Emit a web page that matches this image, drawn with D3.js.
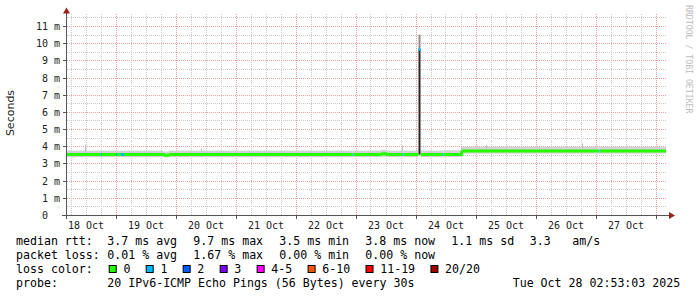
<!DOCTYPE html>
<html>
<head>
<meta charset="utf-8">
<script src="https://cdn.jsdelivr.net/npm/d3@7"></script>
<style>
  body { margin: 0; background: #fff; }
  svg { display: block; }
  text { font-family: "DejaVu Sans Mono", monospace; white-space: pre; }
</style>
</head>
<body>
<svg id="chart" width="697" height="297"></svg>
<script>
// median rtt samples (ms), loss count per sample and ping spread (smoke)
const sampleTimes = [
  "2025-10-18T04:00", "2025-10-18T18:00", "2025-10-18T18:24", "2025-10-19T00:00",
  "2025-10-19T00:24", "2025-10-19T02:00", "2025-10-19T03:12", "2025-10-19T19:00",
  "2025-10-19T21:00", "2025-10-21T00:00", "2025-10-22T22:40", "2025-10-22T23:04",
  "2025-10-23T10:00", "2025-10-23T12:00", "2025-10-23T18:30", "2025-10-23T18:54",
  "2025-10-24T01:00", "2025-10-24T01:48", "2025-10-24T10:30", "2025-10-24T10:54",
  "2025-10-24T18:15", "2025-10-25T12:00", "2025-10-27T01:00", "2025-10-27T01:24"
];
const medianMs = [
  3.55, 3.55, 3.55, 3.55, 3.55, 3.55, 3.55, 3.50,
  3.55, 3.55, 3.55, 3.55, 3.60, 3.55, 3.55, 3.55,
  9.66, 3.55, 3.55, 3.55, 3.76, 3.76, 3.76, 3.76
];
const lossCount = [
  0, 1, 0, 1, 0, 1, 0, 0,
  0, 0, 1, 0, 0, 0, 1, 0,
  1, 0, 1, 0, 0, 0, 1, 0
];
const smokeLow = [
  3.40, 3.40, 3.40, 3.40, 3.40, 3.40, 3.40, 3.38,
  3.40, 3.40, 3.40, 3.40, 3.42, 3.40, 3.40, 3.40,
  9.60, 3.40, 3.40, 3.40, 3.60, 3.60, 3.60, 3.60
];
const smokeHigh = [
  3.78, 3.78, 3.78, 3.78, 3.78, 3.78, 3.78, 3.72,
  3.78, 3.78, 3.78, 3.78, 3.82, 3.78, 3.78, 3.78,
  10.52, 3.78, 3.78, 3.80, 4.00, 4.00, 4.00, 4.00
];
// dense smoke of the spike sample
const spikeTime = "2025-10-24T01:00";
const spikeDense = [3.55, 9.66];
// single pings far above the median
const pingSpikeTimes = ["2025-10-18T11:36", "2025-10-20T10:00", "2025-10-23T18:30", "2025-10-24T18:15", "2025-10-25T04:00", "2025-10-26T18:30"];
const pingSpikeMax = [4.12, 3.90, 4.08, 4.00, 4.12, 4.20];

const yTicks = [0, 1, 2, 3, 4, 5, 6, 7, 8, 9, 10, 11];
const yTickLabels = ["0  ", "1 m", "2 m", "3 m", "4 m", "5 m", "6 m", "7 m", "8 m", "9 m", "10 m", "11 m"];
const dayLabels = ["18 Oct", "19 Oct", "20 Oct", "21 Oct", "22 Oct", "23 Oct", "24 Oct", "25 Oct", "26 Oct", "27 Oct"];

const lossClasses = ["0", "1", "2", "3", "4-5", "6-10", "11-19", "20/20"];
const lossColors = ["#26ff00", "#00b8ff", "#0059ff", "#7e00ff", "#ff00ff", "#ff5500", "#ff0000", "#a10000"];

const legendRows = [
  ["median rtt:", "3.7 ms avg", "9.7 ms max", "3.5 ms min", "3.8 ms now", "1.1 ms sd", "3.3", "am/s"],
  ["packet loss:", "0.01 % avg", "1.67 % max", "0.00 % min", "0.00 % now"]
];
const probeText = "20 IPv6-ICMP Echo Pings (56 Bytes) every 30s";
const stampText = "Tue Oct 28 02:53:03 2025";

const parse = d3.timeParse("%Y-%m-%dT%H:%M");
const samples = sampleTimes.map((t, i) => ({
  t: parse(t), median: medianMs[i], loss: lossCount[i], lo: smokeLow[i], hi: smokeHigh[i]
}));

const start = parse("2025-10-18T04:00");
const end = parse("2025-10-28T04:00");
const x = d3.scaleTime().domain([start, end]).range([66, 666]);
const y = d3.scaleLinear().domain([0, 11.64]).range([215.5, 15.5]);
const px = v => Math.floor(v) + 0.5;

const svg = d3.select("#chart");

// grid
const grid = svg.append("g").attr("stroke-dasharray", "1,1").attr("fill", "none");
const minorY = d3.range(0.5, 11.6, 1);
grid.selectAll(".my").data(minorY).join("line")
  .attr("x1", 67).attr("x2", 667)
  .attr("y1", d => px(y(d))).attr("y2", d => px(y(d)))
  .attr("stroke", "#c8c8c8");
const minorX = d3.timeHour.every(6).range(start, end).filter(d => d.getHours() !== 0);
grid.selectAll(".mx").data(minorX).join("line")
  .attr("x1", d => px(x(d))).attr("x2", d => px(x(d)))
  .attr("y1", 14).attr("y2", 215)
  .attr("stroke", "#c8c8c8");
grid.selectAll(".My").data(yTicks.slice(1)).join("line")
  .attr("x1", 67).attr("x2", 667)
  .attr("y1", d => px(y(d))).attr("y2", d => px(y(d)))
  .attr("stroke", "#eea0a0");
const majorX = d3.timeDay.range(start, end);
grid.selectAll(".Mx").data(majorX).join("line")
  .attr("x1", d => px(x(d))).attr("x2", d => px(x(d)))
  .attr("y1", 14).attr("y2", 215)
  .attr("stroke", "#eea0a0");

// smoke
const nextT = i => i + 1 < samples.length ? samples[i + 1].t : end;
svg.append("g").selectAll("rect").data(samples).join("rect")
  .attr("x", d => x(d.t))
  .attr("width", (d, i) => x(nextT(i)) - x(d.t))
  .attr("y", d => y(d.hi))
  .attr("height", d => y(d.lo) - y(d.hi))
  .attr("fill", d => d.median > 5 ? "#8c8c8c" : "#d2d2d2");

svg.append("g").selectAll("rect").data(pingSpikeTimes).join("rect")
  .attr("x", d => Math.floor(x(parse(d))))
  .attr("width", 1)
  .attr("y", (d, i) => y(pingSpikeMax[i]))
  .attr("height", (d, i) => y(3.7) - y(pingSpikeMax[i]))
  .attr("fill", "#c4c4c4");

const spikeIdx = sampleTimes.indexOf(spikeTime);
svg.append("rect")
  .attr("x", x(samples[spikeIdx].t))
  .attr("width", x(nextT(spikeIdx)) - x(samples[spikeIdx].t))
  .attr("y", y(spikeDense[1]))
  .attr("height", y(spikeDense[0]) - y(spikeDense[1]))
  .attr("fill", "#262626");

// median line, coloured by loss class
const lossClass = n => n === 0 ? 0 : n === 1 ? 1 : n === 2 ? 2 : n === 3 ? 3 : n <= 5 ? 4 : n <= 10 ? 5 : n < 20 ? 6 : 7;
svg.append("g").attr("fill", "none").attr("stroke-width", 3)
  .selectAll("path").data(samples).join("path")
  .attr("stroke", d => lossColors[lossClass(d.loss)])
  .attr("d", (d, i) => {
    let p = `M${x(d.t)},${y(d.median)}H${x(nextT(i))}`;
    const n = samples[i + 1];
    if (n && lossClass(n.loss) === lossClass(d.loss)) p += `V${y(n.median)}`;
    return p;
  });

// axes
const axis = svg.append("g").attr("stroke", "#555");
axis.append("line").attr("x1", 62).attr("x2", 669).attr("y1", 215.5).attr("y2", 215.5);
axis.append("line").attr("x1", 66.5).attr("x2", 66.5).attr("y1", 219).attr("y2", 12);
axis.selectAll(".yt").data(yTicks).join("line")
  .attr("x1", 63).attr("x2", 66)
  .attr("y1", d => px(y(d))).attr("y2", d => px(y(d)));
axis.selectAll(".xt").data(majorX).join("line")
  .attr("x1", d => px(x(d))).attr("x2", d => px(x(d)))
  .attr("y1", 216).attr("y2", 219);
svg.append("path").attr("d", "M63,13.5L66.5,7.5L70,13.5Z").attr("fill", "#a0201e");
svg.append("path").attr("d", "M669,212L675,215.5L669,219Z").attr("fill", "#a0201e");

svg.append("g").selectAll("text").data(yTicks).join("text")
  .attr("x", 60).attr("y", d => y(d) + 3.5)
  .attr("text-anchor", "end")
  .attr("font-size", 10)
  .attr("fill", "#222")
  .text((d, i) => yTickLabels[i]);

// day labels sit at noon of each day
const labelDays = d3.timeDay.range(d3.timeDay.floor(start), d3.timeDay.floor(end));
svg.append("g").selectAll("text").data(labelDays).join("text")
  .attr("x", d => x(d3.timeHour.offset(d, 12)))
  .attr("y", 228.5)
  .attr("text-anchor", "middle")
  .attr("font-size", 10)
  .attr("fill", "#222")
  .text((d, i) => dayLabels[i]);

svg.append("text")
  .attr("transform", "translate(14,113) rotate(-90)")
  .attr("text-anchor", "middle")
  .style("font-family", "'DejaVu Sans', sans-serif")
  .attr("font-size", 11)
  .attr("fill", "#222")
  .text("Seconds");

svg.append("text")
  .attr("transform", "translate(686,5) rotate(90)")
  .attr("font-size", 8.2)
  .attr("fill", "#bdbdbd")
  .text("RRDTOOL / TOBI OETIKER");

// legend
const legend = svg.append("g").attr("font-size", 11.6).attr("fill", "#000");
const colX = [16, 107.3, 193.3, 279.3, 365.3, 451.3, 529.7, 572.3];
legendRows.forEach((row, r) => {
  row.forEach((s, c) => {
    legend.append("text").attr("x", colX[c]).attr("y", 245 + r * 14).text(s);
  });
});
legend.append("text").attr("x", 16).attr("y", 273).text("loss color:");
let bx = 108.7;
lossClasses.forEach((lab, i) => {
  legend.append("rect").attr("x", bx + 0.5).attr("y", 265.5).attr("width", 7).attr("height", 7)
    .attr("fill", lossColors[i]).attr("stroke", "#000");
  const t = legend.append("text").attr("x", bx + 14.7).attr("y", 273).text(lab);
  bx += 14.7 + t.node().getComputedTextLength() + 15.3;
});
legend.append("text").attr("x", 16).attr("y", 287).text("probe:");
legend.append("text").attr("x", 107.3).attr("y", 287).text(probeText);
legend.append("text").attr("x", 512.7).attr("y", 287).text(stampText);
</script>
</body>
</html>
